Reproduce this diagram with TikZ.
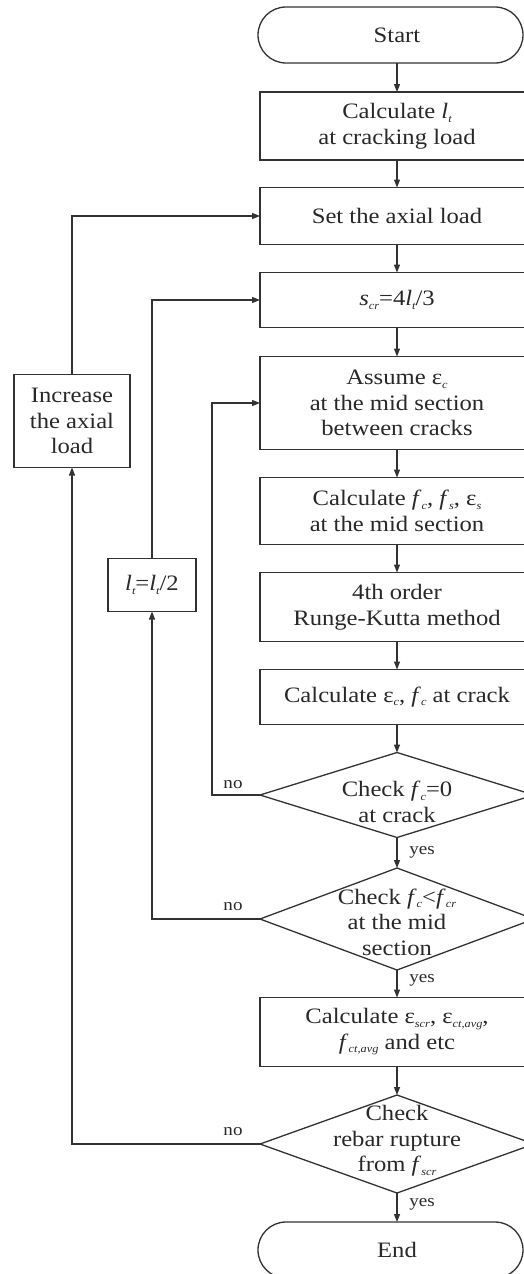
\documentclass[tikz,border=0pt]{standalone}
\usepackage{fontspec}
\setmainfont[FakeStretch=1.12]{Liberation Serif}
\usetikzlibrary{arrows.meta,shapes.geometric}
\definecolor{ink}{RGB}{40,40,40}
\definecolor{ln}{RGB}{50,50,50}
\newcommand{\sbs}[1]{\raisebox{-0.35ex}{\fontsize{11}{11}\selectfont\itshape #1}}
\newcommand{\vi}[1]{\textit{#1}}
\begin{document}
\begin{tikzpicture}[x=1pt,y=-1pt,
  every node/.style={text=ink, font=\fontsize{22}{25.5}\selectfont, outer sep=0pt},
  procbox/.style={draw=ln, line width=1.3pt, rectangle, minimum width=274pt, inner sep=0pt, align=center},
  termbox/.style={draw=ln, line width=1.3pt, rectangle, rounded corners=28pt, minimum width=265pt, minimum height=56pt, inner sep=0pt},
  decbox/.style={draw=ln, line width=1.3pt, diamond, minimum width=274pt, inner sep=0pt},
  dectext/.style={align=center, inner sep=0pt},
  conn/.style={draw=ln, line width=1.3pt, -{Triangle[length=8pt,width=6pt]}},
  lbl/.style={font=\fontsize{17}{19}\selectfont, inner sep=0pt}
]
\useasboundingbox (0,0) rectangle (524,1274);
\clip (0,0) rectangle (524,1274);

% main column
\node[termbox] (start) at (390.5,35) {\hspace*{13pt}Start};
\node[procbox, minimum height=68pt] (b1) at (397,126) {Calculate \vi{l}\sbs{t}\\at cracking load};
\node[procbox, minimum height=57pt] (b2) at (397,216) {Set the axial load};
\node[procbox, minimum height=55pt] (b3) at (397,300) {\vi{s}\sbs{cr}=4\vi{l}\sbs{t}/3};
\node[procbox, minimum height=93pt] (b4) at (397,403) {Assume ε\sbs{c}\\at the mid section\\between cracks};
\node[procbox, minimum height=67pt] (b5) at (397,511) {Calculate \vi{f}\sbs{c}, \vi{f}\sbs{s}, ε\sbs{s}\\at the mid section};
\node[procbox, minimum height=69pt] (b6) at (397,607) {4th order\\Runge-Kutta method};
\node[procbox, minimum height=55pt] (b7) at (397,697) {Calculate ε\sbs{c}, \vi{f}\sbs{c} at crack};
\node[decbox, minimum height=85pt] (d1) at (397,795) {};
\node[dectext] (d1t) at (397,802) {Check \vi{f}\sbs{c}=0\\at crack};
\node[decbox, minimum height=102pt] (d2) at (397,919) {};
\node[dectext] (d2t) at (397,922) {Check \vi{f}\sbs{c}<\vi{f}\sbs{cr}\\at the mid\\section};
\node[procbox, minimum height=69pt] (b8) at (397,1032) {Calculate ε\sbs{scr}, ε\sbs{ct,avg},\\\vi{f}\sbs{ct,avg} and etc};
\node[decbox, minimum height=98pt] (d3) at (397,1144) {};
\node[dectext] (d3t) at (397,1141) {Check\\rebar rupture\\from \vi{f}\sbs{scr}};
\node[termbox] (end) at (390.5,1250) {\hspace*{13pt}End};

% side boxes
\node[procbox, minimum width=116pt, minimum height=93pt] (inc) at (72,421) {Increase\\the axial\\load};
\node[procbox, minimum width=88pt, minimum height=53pt] (lt) at (152,585) {\vi{l}\sbs{t}=\vi{l}\sbs{t}/2};

% main flow
\draw[conn] (start.south -| b1.north) -- (b1.north);
\draw[conn] (b1) -- (b2);
\draw[conn] (b2) -- (b3);
\draw[conn] (b3) -- (b4);
\draw[conn] (b4) -- (b5);
\draw[conn] (b5) -- (b6);
\draw[conn] (b6) -- (b7);
\draw[conn] (b7) -- (d1.north);
\draw[conn] (d1.south) -- (d2.north);
\draw[conn] (d2.south) -- (b8.north);
\draw[conn] (b8) -- (d3.north);
\draw[conn] (d3.south) -- (d3.south |- end.north);

% loops
\draw[conn] (d1.west) -- ++(-48,0) |- (b4.west);
\draw[conn] (d2.west) -| (lt.south);
\draw[conn] (lt.north) |- (b3.west);
\draw[conn] (d3.west) -| (inc.south);
\draw[conn] (inc.north) |- (b2.west);

% labels
\node[lbl] (no1) at (233,785) {no};
\node[lbl] (no2) at (233,907) {no};
\node[lbl] (no3) at (233,1132) {no};
\node[lbl] (yes1) at (422,852) {yes};
\node[lbl] (yes2) at (422,980) {yes};
\node[lbl] (yes3) at (422,1204) {yes};
\end{tikzpicture}
\end{document}
